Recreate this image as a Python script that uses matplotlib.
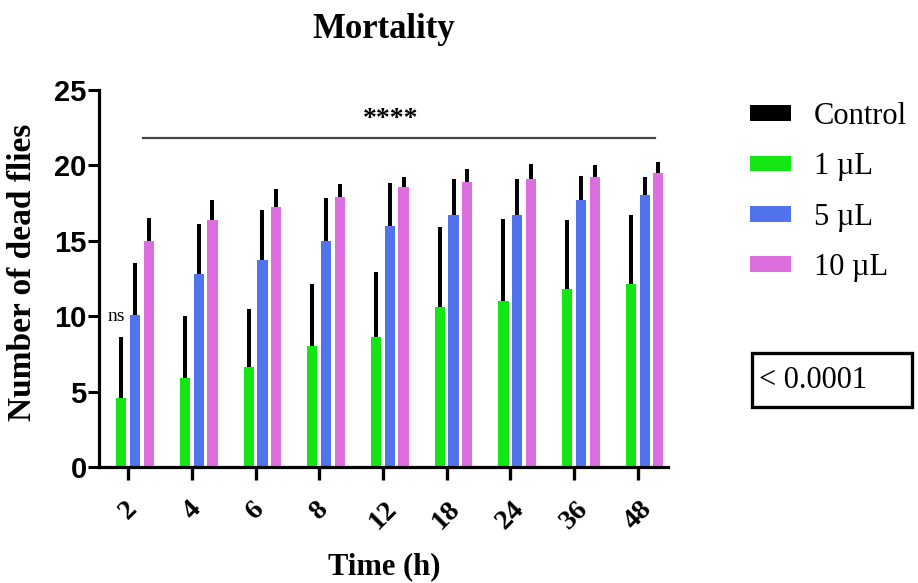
import numpy as np
import matplotlib
matplotlib.use("Agg")
import matplotlib.pyplot as plt
from matplotlib.patches import Rectangle

# Time points (h) and group labels
times = ["2", "4", "6", "8", "12", "18", "24", "36", "48"]
groups = ["Control", "1 µL", "5 µL", "10 µL"]
colors = ["#000000", "#14e614", "#5273ee", "#dd6ee0"]

# Mean number of dead flies per group
control_mean = [0, 0, 0, 0, 0, 0, 0, 0, 0]
dose1_mean = [4.6, 5.9, 6.6, 8.0, 8.6, 10.6, 11.0, 11.8, 12.1]
dose5_mean = [10.1, 12.8, 13.7, 15.0, 16.0, 16.7, 16.7, 17.7, 18.0]
dose10_mean = [15.0, 16.4, 17.2, 17.9, 18.55, 18.9, 19.1, 19.2, 19.5]

# Standard deviations (upper error bars)
control_sd = [0, 0, 0, 0, 0, 0, 0, 0, 0]
dose1_sd = [4.0, 4.1, 3.9, 4.1, 4.3, 5.3, 5.45, 4.6, 4.6]
dose5_sd = [3.4, 3.3, 3.35, 2.8, 2.85, 2.4, 2.4, 1.6, 1.2]
dose10_sd = [1.5, 1.3, 1.25, 0.85, 0.65, 0.85, 0.95, 0.8, 0.7]

means = [control_mean, dose1_mean, dose5_mean, dose10_mean]
sds = [control_sd, dose1_sd, dose5_sd, dose10_sd]

serif = "Liberation Serif"
sans = "Liberation Sans"

fig = plt.figure(figsize=(9.18, 5.83), dpi=100)
ax = fig.add_axes([0.108, 0.199, 0.620, 0.647])

x = np.arange(len(times))
slot = 0.216
width = 0.16
handles = []
for i, (m, s, c, g) in enumerate(zip(means, sds, colors, groups)):
    pos = x + (i - 1.5) * slot
    ax.errorbar(pos, m, yerr=[np.zeros(len(s)), s], fmt="none",
                ecolor="black", elinewidth=2.9, capsize=0, zorder=1)
    b = ax.bar(pos, m, width=width, color=c, label=g, zorder=2)
    handles.append(b)

ax.set_xlim(-0.455, 8.48)
ax.set_ylim(0, 25)
ax.set_yticks([0, 5, 10, 15, 20, 25])
ax.set_xticks(x)
ax.set_xticklabels(times, rotation=45, ha="center", va="top",
                   fontfamily=serif, fontweight="bold", fontsize=20.5)
for lab in ax.get_yticklabels():
    lab.set_fontfamily(sans)
    lab.set_fontweight("bold")
    lab.set_fontsize(21)

for side in ["top", "right"]:
    ax.spines[side].set_visible(False)
for side in ["left", "bottom"]:
    ax.spines[side].set_linewidth(2.3)
ax.tick_params(axis="y", length=8, width=2.2, pad=1)
ax.tick_params(axis="x", length=9, width=2.4, pad=12)

fig.text(23 / 918, 1 - 272 / 583, "Number of dead flies", fontfamily=serif,
         fontweight="bold", fontsize=24, rotation=90,
         ha="center", va="center")
fig.text(384 / 918, 1 - 574 / 583, "Time (h)", fontfamily=serif,
         fontweight="bold", fontsize=22, ha="center", va="baseline")
fig.text(384 / 918, 1 - 29 / 583, "Mortality", fontfamily=serif,
         fontweight="bold", fontsize=25, ha="center", va="center")

# Significance annotations
ax.plot([0.23, 8.27], [21.8, 21.8], color="#444444", lw=1.6, zorder=3)
ax.text(4.12, 23.0, "****", fontfamily=serif, fontweight="bold",
        fontsize=20, ha="center", va="center")
ax.text(-0.19, 10.0, "ns", fontfamily=serif, fontsize=14,
        ha="center", va="center")

leg = ax.legend(handles=handles, loc="upper left",
                bbox_to_anchor=(750 / 918, 1 - 102 / 583),
                bbox_transform=fig.transFigure, frameon=False,
                prop={"family": serif, "size": 22},
                handlelength=1.35, handleheight=0.42, handletextpad=0.75,
                labelspacing=0.70, borderpad=0, borderaxespad=0)

# p-value box
fig.patches.append(Rectangle((752 / 918, 1 - 407 / 583), 160 / 918, 54 / 583,
                             transform=fig.transFigure, fill=False,
                             edgecolor="black", linewidth=2.4))
fig.text(759 / 918, 1 - 381 / 583, "< 0.0001", fontfamily=serif,
         fontsize=22, ha="left", va="center")

fig.savefig("out.png", dpi=100)
